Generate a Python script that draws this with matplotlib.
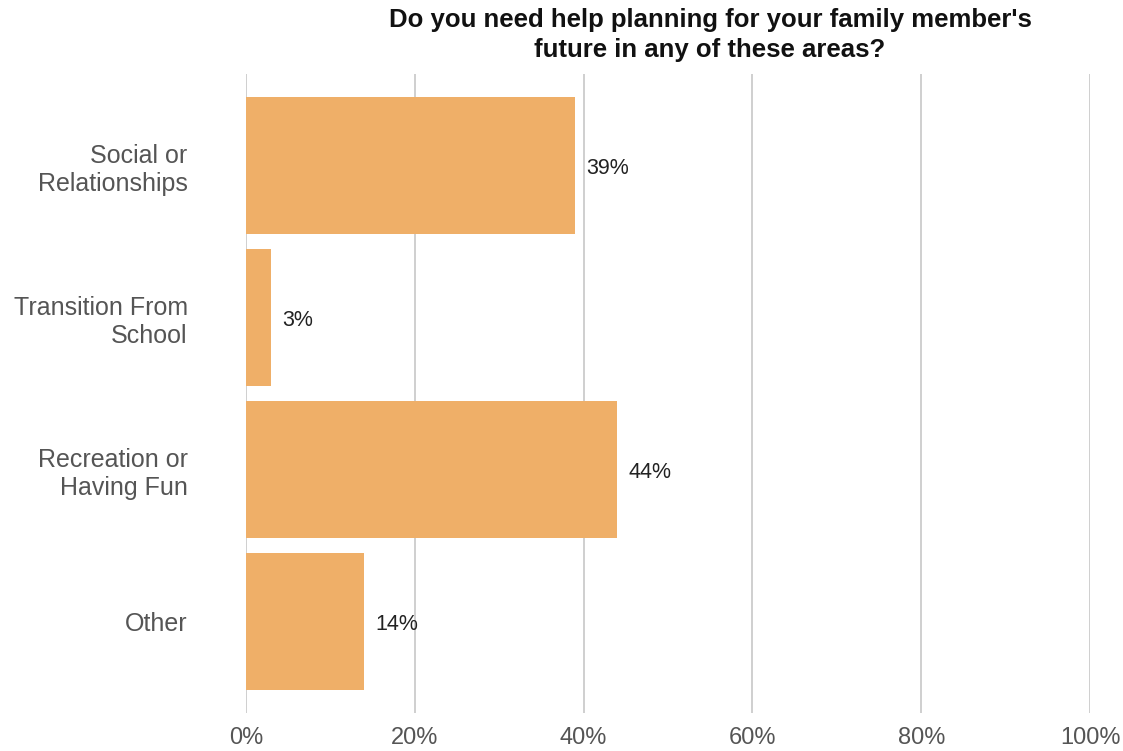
import matplotlib.pyplot as plt
import numpy as np

categories = ["Social or\nRelationships", "Transition From\nSchool",
              "Recreation or\nHaving Fun", "Other"]
values = [39, 3, 44, 14]
x_ticks = [0, 20, 40, 60, 80, 100]
title = "Do you need help planning for your family member's\nfuture in any of these areas?"

plt.rcParams['font.family'] = ['Liberation Sans', 'DejaVu Sans']

fig = plt.figure(figsize=(11.23, 7.51), dpi=100)
ax = fig.add_axes([246 / 1123, 1 - 713 / 751, 844 / 1123, 639 / 751])

y = np.arange(len(categories))
ax.barh(y, values, height=0.9, color='#EFAF68', zorder=2)

# value labels just past the end of each bar
for yi, v in zip(y, values):
    ax.annotate(f"{v}%", (v, yi), xytext=(8, -2), textcoords='offset points',
                va='center', ha='left', fontsize=15.5, color='#222222')

ax.set_xlim(0, 100)
ax.set_ylim(3.6, -0.6)
ax.set_xticks(x_ticks)
ax.set_xticklabels([f"{t}%" for t in x_ticks])
ax.set_yticks(y)
ax.set_yticklabels(categories, fontsize=18, color='#555555', linespacing=1.2)
ax.tick_params(axis='x', labelsize=17, labelcolor='#555555', length=0, pad=10)
ax.tick_params(axis='y', length=0, pad=42)
ax.xaxis.grid(True, color='#CCCCCC', linewidth=1.3, zorder=0)
ax.set_axisbelow(True)
for s in ax.spines.values():
    s.set_visible(False)

fig.text(710 / 1123, 1 - 35 / 751, title, ha='center', va='center',
         fontsize=18.5, fontweight='bold', color='#111111', linespacing=1.35)

fig.savefig('out.png', dpi=100, facecolor='white')
